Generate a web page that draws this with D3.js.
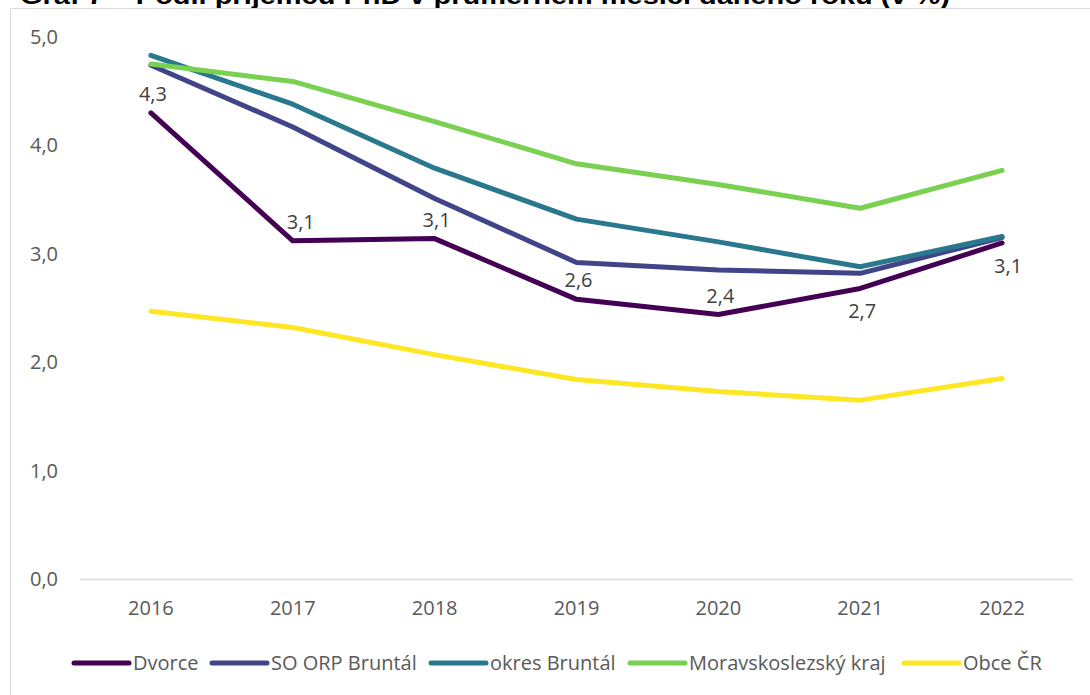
<!DOCTYPE html>
<html>
<head>
<meta charset="utf-8">
<script src="https://cdn.jsdelivr.net/npm/d3@7"></script>
<style>
  html, body { margin: 0; padding: 0; background: #ffffff; }
  svg { display: block; }
</style>
</head>
<body>
<svg id="chart" width="1090" height="695"></svg>
<script>
const years = ["2016", "2017", "2018", "2019", "2020", "2021", "2022"];
const dvorce = [4.30, 3.12, 3.14, 2.58, 2.44, 2.68, 3.10];
const soOrpBruntal = [4.74, 4.17, 3.51, 2.92, 2.85, 2.82, 3.15];
const okresBruntal = [4.83, 4.38, 3.79, 3.32, 3.11, 2.88, 3.16];
const msKraj = [4.75, 4.59, 4.22, 3.83, 3.64, 3.42, 3.77];
const obceCR = [2.47, 2.32, 2.07, 1.84, 1.73, 1.65, 1.85];
const dvorceLabels = ["4,3", "3,1", "3,1", "2,6", "2,4", "2,7", "3,1"];
const yTicks = [0, 1, 2, 3, 4, 5];
const seriesNames = ["Dvorce", "SO ORP Bruntál", "okres Bruntál", "Moravskoslezský kraj", "Obce ČR"];
const titleText = "Graf 7 – Podíl příjemců PnD v průměrném měsíci daného roku (v %)";

const colors = ["#440154", "#414487", "#2a788e", "#7ad151", "#fde725"];
const series = [dvorce, soOrpBruntal, okresBruntal, msKraj, obceCR];

const svg = d3.select("#chart");

// title (partially cut off at top, as in reference)
svg.append("text")
  .attr("x", 20).attr("y", 4)
  .attr("font-family", "Liberation Sans, Arial, sans-serif")
  .attr("font-weight", "bold")
  .attr("font-size", 23)
  .attr("fill", "#000")
  .attr("textLength", 930)
  .attr("lengthAdjust", "spacingAndGlyphs")
  .text(titleText);

// chart frame
svg.append("path")
  .attr("d", "M10.5,700 L10.5,8.5 L1100,8.5")
  .attr("fill", "none")
  .attr("stroke", "#d9d9d9")
  .attr("stroke-width", 1);

const plotLeft = 80, plotRight = 1073, plotTop = 37, plotBottom = 579;

const x = d3.scaleBand().domain(years).range([plotLeft, plotRight]);
const y = d3.scaleLinear().domain([0, 5]).range([plotBottom, plotTop]);

const fontTick = "Open Sans, Noto Sans, sans-serif";

// y-axis tick labels
const yAxis = d3.axisLeft(y).tickValues(yTicks).tickSize(0).tickPadding(0)
  .tickFormat(d => d3.format(".1f")(d).replace(".", ","));
const gy = svg.append("g").attr("transform", "translate(58,0)").call(yAxis);
gy.select(".domain").remove();
gy.selectAll("text").attr("font-family", fontTick).attr("font-size", 20).attr("fill", "#595959");

// baseline
svg.append("line")
  .attr("x1", plotLeft).attr("x2", plotRight)
  .attr("y1", y(0) + 0.5).attr("y2", y(0) + 0.5)
  .attr("stroke", "#d9d9d9").attr("stroke-width", 1.5);

// x-axis labels
const xAxis = d3.axisBottom(x).tickSize(0).tickPadding(0);
const gx = svg.append("g").attr("transform", `translate(0,${plotBottom + 18})`).call(xAxis);
gx.select(".domain").remove();
gx.selectAll("text").attr("font-family", fontTick).attr("font-size", 20).attr("fill", "#595959")
  .attr("dy", "0.9em");

const line = d3.line()
  .x((d, i) => x(years[i]) + x.bandwidth() / 2)
  .y(d => y(d));

series.forEach((s, k) => {
  svg.append("path")
    .datum(s)
    .attr("d", line)
    .attr("fill", "none")
    .attr("stroke", colors[k])
    .attr("stroke-width", 5)
    .attr("stroke-linejoin", "round")
    .attr("stroke-linecap", "round");
});

// data labels for Dvorce
const below = [false, false, false, false, false, true, true];
dvorceLabels.forEach((lab, i) => {
  const cx = x(years[i]) + x.bandwidth() / 2;
  const cy = y(dvorce[i]);
  svg.append("text")
    .attr("x", cx + (i === 6 ? 6 : (i === 1 ? 8 : 2)))
    .attr("y", below[i] ? cy + 30 : cy - 12)
    .attr("text-anchor", "middle")
    .attr("font-family", fontTick)
    .attr("font-size", 20)
    .attr("fill", "#404040")
    .text(lab);
});

// legend
const legendY = 663;
const legendX = [74, 212, 431, 630, 904];
seriesNames.forEach((name, k) => {
  const g = svg.append("g");
  g.append("line")
    .attr("x1", legendX[k]).attr("x2", legendX[k] + 55)
    .attr("y1", legendY).attr("y2", legendY)
    .attr("stroke", colors[k]).attr("stroke-width", 5)
    .attr("stroke-linecap", "round");
  g.append("text")
    .attr("x", legendX[k] + 59).attr("y", legendY)
    .attr("dy", "0.35em")
    .attr("font-family", fontTick)
    .attr("font-size", 20)
    .attr("fill", "#595959")
    .text(name);
});
</script>
</body>
</html>
